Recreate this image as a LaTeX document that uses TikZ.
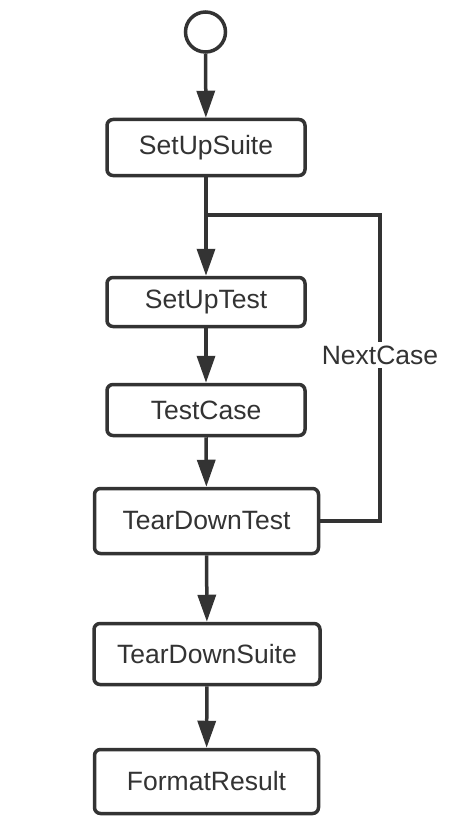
\documentclass[tikz,border=0pt]{standalone}
\usepackage{fontspec}
\setmainfont{Liberation Sans}
\usetikzlibrary{arrows.meta}
\definecolor{ink}{HTML}{333333}
\begin{document}
\begin{tikzpicture}[x=1pt,y=-1pt,
  stepbox/.style={draw=ink, line width=3.5pt, rounded corners=6pt, fill=white,
    text=ink, font=\fontsize{26.5}{30}\selectfont, inner sep=0pt},
  flow/.style={draw=ink, line width=3.5pt, -{Triangle[width=18pt,length=27pt]}},
  plain/.style={draw=ink, line width=3.5pt}
]
\fill[white] (0,0) rectangle (454,824);
\useasboundingbox (0,0) rectangle (454,824);

\node[circle, draw=ink, line width=3.5pt, minimum size=40pt, inner sep=0pt] (start) at (205.5,32) {};
\node[stepbox, minimum width=198pt, minimum height=56pt] (suite) at (206,147.5) {SetUpSuite};
\node[stepbox, minimum width=198pt, minimum height=49pt] (setup) at (206,302) {SetUpTest};
\node[stepbox, minimum width=198pt, minimum height=51pt] (case) at (206,410) {TestCase};
\node[stepbox, minimum width=224pt, minimum height=65pt] (teardown) at (206.5,521) {TearDownTest};
\node[stepbox, minimum width=226pt, minimum height=61pt] (tsuite) at (207,654) {TearDownSuite};
\node[stepbox, minimum width=224pt, minimum height=64pt] (fmt) at (206.5,781.5) {FormatResult};

\coordinate (J) at (206,215);
\coordinate (R) at (380,215);

\draw[flow] (start) -- (suite);
\draw[plain] (suite.south) -- (J);
\draw[flow] (J) -- (setup.north);
\draw[plain] (teardown.east) -| (R) -- (J);
\node[fill=white, text=ink, font=\fontsize{26.5}{30}\selectfont, inner xsep=0pt, inner ysep=4pt] (next) at (380,355) {NextCase};
\draw[flow] (setup) -- (case);
\draw[flow] (case) -- (teardown);
\draw[flow] (teardown) -- (tsuite);
\draw[flow] (tsuite) -- (fmt);
\end{tikzpicture}
\end{document}
